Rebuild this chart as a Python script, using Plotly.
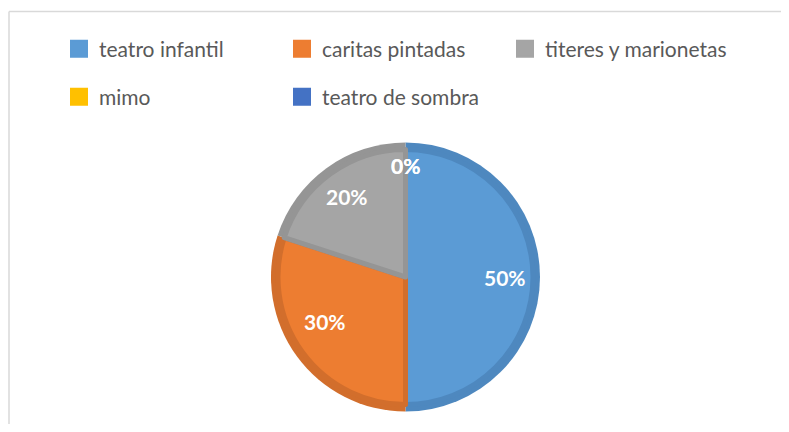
import math
import plotly.graph_objects as go

labels = ["teatro infantil", "caritas pintadas", "titeres y marionetas", "mimo", "teatro de sombra"]
values = [50, 30, 20, 0, 0]
colors = ["#5B9BD5", "#ED7D31", "#A5A5A5", "#FFC000", "#4472C4"]
dark_colors = ["#4E88BF", "#D26E2C", "#959595", "#E0A800", "#3C64AC"]
legend_rows = ["legend", "legend", "legend", "legend2", "legend2"]

off = 8  # page body margin
W, H = 789 - 2 * off, 432 - 2 * off
cx, cy, r = 405.5 - off, 277 - off, 134.5
inset = 7

def dom(rad):
    return dict(x=[(cx - rad) / W, (cx + rad) / W], y=[1 - (cy + rad) / H, 1 - (cy - rad) / H])

fig = go.Figure()
fig.add_trace(go.Pie(
    labels=labels, values=values, sort=False, direction="clockwise", rotation=0,
    marker=dict(colors=dark_colors, line=dict(width=0)),
    textinfo="none", hoverinfo="skip", showlegend=False, domain=dom(r),
))
fig.add_trace(go.Pie(
    labels=labels, values=values, sort=False, direction="clockwise", rotation=0,
    marker=dict(colors=colors, line=dict(color=dark_colors,
                                         width=[5 if v > 0 else 0 for v in values])),
    textinfo="none", showlegend=False, domain=dom(r - inset),
))

# legend entries
for lab, col, lg in zip(labels, colors, legend_rows):
    fig.add_trace(go.Scatter(x=[None], y=[None], mode="markers", name=lab, legend=lg,
                             marker=dict(symbol="square", size=16, color=col,
                                         line=dict(color=col, width=2))))

# percentage labels
total = sum(values)
cum = 0
for v in values:
    mid = (cum + v / 2) / total * 2 * math.pi
    cum += v
    rr = r * (0.74 if v > 0 else 0.83)
    px = cx + rr * math.sin(mid)
    py = cy - rr * math.cos(mid)
    fig.add_annotation(x=px / W, y=1 - py / H, xref="paper", yref="paper",
                       text=f"{round(v / total * 100)}%", showarrow=False,
                       font=dict(family="Lato", size=21, color="white", weight="bold"))

# chart frame (left and top edges visible)
frame = dict(color="#D9D9D9", width=1.5)
fig.add_shape(type="line", xref="paper", yref="paper",
              x0=1 / W, x1=1 / W, y0=0, y1=1 - 3.5 / H, line=frame)
fig.add_shape(type="line", xref="paper", yref="paper",
              x0=1 / W, x1=1, y0=1 - 3.5 / H, y1=1 - 3.5 / H, line=frame)

leg_common = dict(orientation="h", xanchor="left", yanchor="top",
                  entrywidth=178, entrywidthmode="pixels", itemwidth=30,
                  font=dict(family="Lato", size=21, color="#595959"),
                  bgcolor="rgba(0,0,0,0)", traceorder="normal")

fig.update_layout(
    width=W, height=H, margin=dict(l=0, r=0, t=0, b=0),
    paper_bgcolor="white", plot_bgcolor="white",
    showlegend=True,
    xaxis=dict(visible=False), yaxis=dict(visible=False),
    legend=dict(x=51 / W, y=1 - 20.5 / H, **leg_common),
    legend2=dict(x=51 / W, y=1 - 68.5 / H, **leg_common),
)
fig.write_html("out.html")
